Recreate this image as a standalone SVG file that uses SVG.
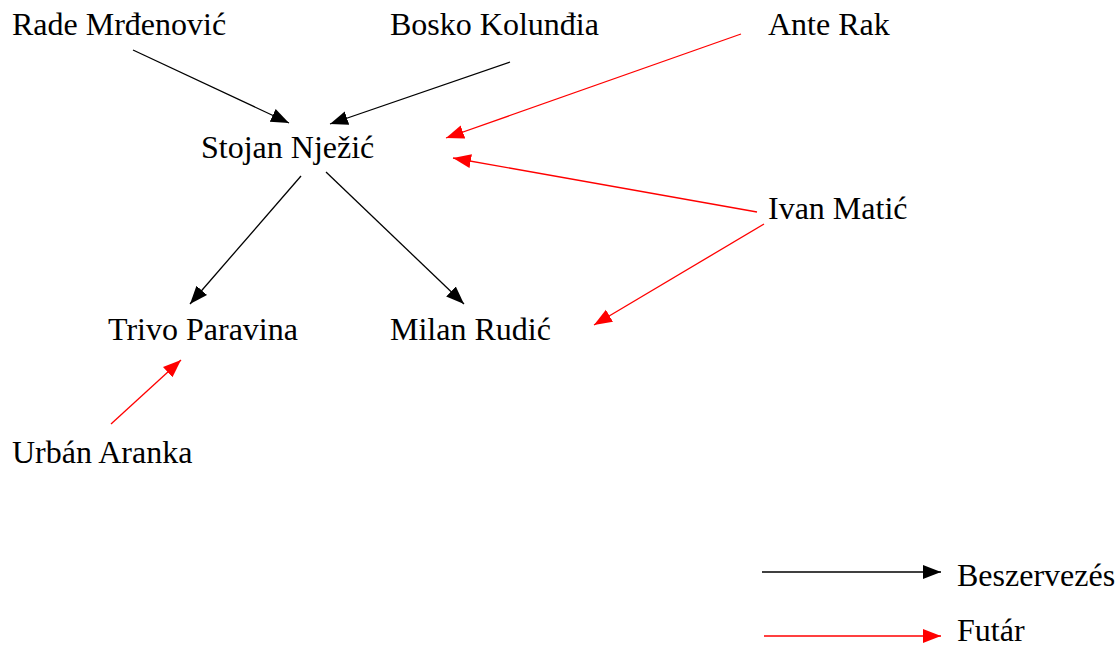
<svg xmlns="http://www.w3.org/2000/svg" width="1116" height="648" viewBox="0 0 1116 648">
<defs>
<style>
text{font-family:"Liberation Serif","Times New Roman",serif;font-size:32px;fill:#000}
.b{stroke:#000;stroke-width:1.3;fill:none}
.r{stroke:#f00;stroke-width:1.3;fill:none}
</style>
<marker id="ab" markerUnits="userSpaceOnUse" markerWidth="19" markerHeight="15" refX="18" refY="7" orient="auto"><path d="M0,0 L18,7 L0,14 z" fill="#000"/></marker>
<marker id="ar" markerUnits="userSpaceOnUse" markerWidth="19" markerHeight="15" refX="18" refY="7" orient="auto"><path d="M0,0 L18,7 L0,14 z" fill="#f00"/></marker>
</defs>
<rect width="1116" height="648" fill="#fff"/>
<g id="rade"><text x="12" y="35">Rade Mrđenović</text></g>
<g id="bosko"><text x="390" y="35">Bosko Kolunđia</text></g>
<g id="ante"><text x="768" y="35">Ante Rak</text></g>
<g id="stojan"><text x="201" y="158">Stojan Nježić</text></g>
<g id="ivan"><text x="768" y="219">Ivan Matić</text></g>
<g id="trivo"><text x="108" y="340">Trivo Paravina</text></g>
<g id="milan"><text x="390" y="340">Milan Rudić</text></g>
<g id="urban"><text x="12" y="463">Urbán Aranka</text></g>
<g id="legend1"><text x="957" y="586">Beszervezés</text></g>
<g id="legend2"><text x="957" y="641">Futár</text></g>
<g id="connectors">
<line class="b" x1="133" y1="50" x2="289" y2="123" marker-end="url(#ab)"/>
<line class="b" x1="510" y1="62" x2="330" y2="124" marker-end="url(#ab)"/>
<line class="r" x1="741" y1="34" x2="446" y2="138" marker-end="url(#ar)"/>
<line class="r" x1="757" y1="212" x2="453" y2="158" marker-end="url(#ar)"/>
<line class="r" x1="764" y1="224" x2="594" y2="325" marker-end="url(#ar)"/>
<line class="b" x1="301" y1="176" x2="190" y2="304" marker-end="url(#ab)"/>
<line class="b" x1="326" y1="172" x2="464" y2="304" marker-end="url(#ab)"/>
<line class="r" x1="111" y1="424" x2="181" y2="360" marker-end="url(#ar)"/>
<line class="b" x1="762" y1="572" x2="941" y2="572" marker-end="url(#ab)"/>
<line class="r" x1="764" y1="636" x2="941" y2="636" marker-end="url(#ar)"/>
</g>
</svg>
